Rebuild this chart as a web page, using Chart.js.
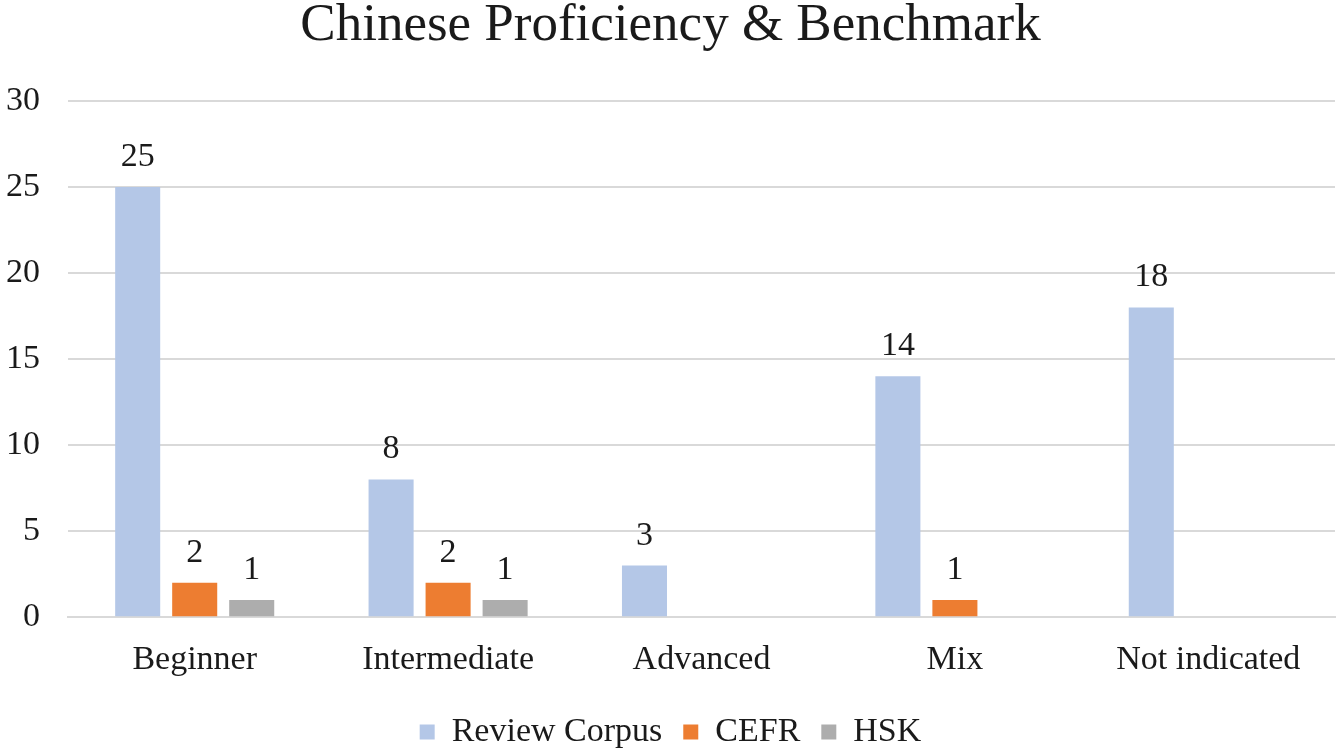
<!DOCTYPE html>
<html>
<head>
<meta charset="utf-8">
<script src="https://cdn.jsdelivr.net/npm/chart.js@4.4.0/dist/chart.umd.min.js"></script>
<style>
html,body{margin:0;padding:0;background:#fff;}
#wrap{width:1341px;height:753px;position:relative;}
</style>
</head>
<body>
<div id="wrap"><canvas id="c"></canvas></div>
<script>
const categories = ["Beginner", "Intermediate", "Advanced", "Mix", "Not indicated"];
const reviewCorpus = [25, 8, 3, 14, 18];
const cefr = [2, 2, 0, 1, 0];
const hsk = [1, 1, 0, 0, 0];
const seriesNames = ["Review Corpus", "CEFR", "HSK"];
const yTicks = [0, 5, 10, 15, 20, 25, 30];

const FONT = "'Liberation Serif', 'Times New Roman', serif";
const TEXT = "#1a1a1a";

const labelPlugin = {
  id: 'barLabels',
  afterDatasetsDraw(chart) {
    const ctx = chart.ctx;
    ctx.save();
    ctx.font = "34px " + FONT;
    ctx.fillStyle = TEXT;
    ctx.textAlign = 'center';
    ctx.textBaseline = 'middle';
    chart.data.datasets.forEach((ds, i) => {
      const meta = chart.getDatasetMeta(i);
      meta.data.forEach((bar, j) => {
        const v = ds.data[j];
        if (!v) return;
        ctx.fillText(String(v), bar.x, bar.y - 30);
      });
    });
    ctx.restore();
  }
};

new Chart(document.getElementById('c'), {
  type: 'bar',
  data: {
    labels: categories,
    datasets: [
      { label: seriesNames[0], data: reviewCorpus, backgroundColor: '#B4C7E7' },
      { label: seriesNames[1], data: cefr, backgroundColor: '#ED7D31' },
      { label: seriesNames[2], data: hsk, backgroundColor: '#ADADAD' }
    ]
  },
  options: {
    responsive: true,
    maintainAspectRatio: false,
    animation: false,
    devicePixelRatio: 1,
    layout: { padding: { left: 6, right: 6, top: 0, bottom: -6 } },
    datasets: { bar: { categoryPercentage: 0.675, barPercentage: 0.79 } },
    plugins: {
      title: {
        display: true,
        text: 'Chinese Proficiency & Benchmark',
        color: TEXT,
        font: { family: FONT, size: 53, weight: 'normal', lineHeight: 1.0 },
        padding: { top: 0, bottom: 48 }
      },
      legend: {
        position: 'bottom',
        labels: {
          color: TEXT,
          font: { family: FONT, size: 34 },
          boxWidth: 15,
          boxHeight: 15,
          padding: 21
        }
      },
      tooltip: { enabled: false }
    },
    scales: {
      x: {
        grid: { display: false },
        border: { display: true, color: '#D9D9D9', width: 2 },
        ticks: { color: TEXT, font: { family: FONT, size: 34 }, padding: 14 }
      },
      y: {
        min: 0, max: 30,
        afterBuildTicks(axis) { axis.ticks = yTicks.map(v => ({ value: v })); },
        afterFit(axis) { axis.width = 62; },
        grid: { color: '#D9D9D9', lineWidth: 2, drawTicks: false },
        border: { display: false },
        ticks: { color: TEXT, font: { family: FONT, size: 34 }, padding: 28 }
      }
    }
  },
  plugins: [labelPlugin]
});
</script>
</body>
</html>
